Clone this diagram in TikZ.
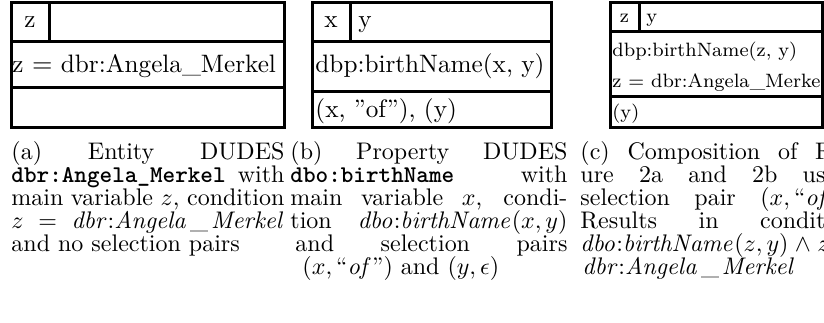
\documentclass[tikz,border=0pt]{standalone}
\usepackage{amsmath}
\usepackage{amssymb}
\newdimen\pxu \pxu=0.4167pt
\tikzset{
  box/.style={line width=3\pxu},
  varcell/.style={inner sep=0pt, anchor=base, font=\fontsize{10.5}{12}\selectfont},
  celltext/.style={inner sep=0pt, anchor=base west, font=\fontsize{10.5}{12}\selectfont},
  smallvar/.style={inner sep=0pt, anchor=base, font=\fontsize{8.05}{10}\selectfont},
  smallcell/.style={inner sep=0pt, anchor=base west, font=\fontsize{8.05}{10}\selectfont},
  subcap/.style={inner sep=0pt, anchor=base west, align=justify, font=\fontsize{10}{9.58}\selectfont}
}
\newcommand{\ttname}[1]{\texttt{\bfseries #1}}
\newcommand{\merkel}{\mathit{dbr}{:}\mathit{Angela\kern.12em\_\kern.12em Merkel}}

\begin{document}
\begin{tikzpicture}[x=\pxu, y=-\pxu]

    \useasboundingbox (0,0) rectangle (824,323);
    \clip (0,0) rectangle (824,323);

    % Entity DUDES
    \draw[box] (11,3) rectangle (284,128);
    \draw[box] (11,42) -- (284,42);
    \draw[box] (11,88) -- (284,88);
    \draw[box] (49,3) -- (49,42);
    \node[varcell] (mainz) at (30,28) {z};
    \node[celltext] (condmerkel) at (12,73) {z $=$ dbr:Angela\_Merkel};

    % Property DUDES
    \draw[box] (312,3) rectangle (551,128);
    \draw[box] (312,42) -- (551,42);
    \draw[box] (312,92) -- (551,92);
    \draw[box] (350,3) -- (350,42);
    \node[varcell] (mainx) at (331,28) {x};
    \node[celltext] (vary) at (358,28) {y};
    \node[celltext] (condbirth) at (315,73) {dbp:birthName(x, y)};
    \node[celltext] (selpairs) at (315,118) {(x, "of"), (y)};

    % Composition of both
    \draw[box] (610,3) rectangle (822.5,128);
    \draw[box] (610,32) -- (822.5,32);
    \draw[box] (610,97) -- (822.5,97);
    \draw[box] (639,3) -- (639,32);
    \node[smallvar] (compz) at (624.5,23) {z};
    \node[smallcell] (compy) at (646,23) {y};
    \node[smallcell] (compbirth) at (612,57) {dbp:birthName(z, y)};
    \node[smallcell] (compmerkel) at (612,88) {z $=$ dbr:Angela\_Merkel};
    \node[smallcell] (compsel) at (612,119) {(y)};

    % Subcaptions
    \node[subcap, text width=273\pxu] (capa) at (11,160) {%
      (a) Entity DUDES\linebreak
      \ttname{dbr:Angela\_Merkel} with\linebreak
      main variable $z$, condition\linebreak
      $z = \merkel$\linebreak
      and no selection pairs};
    \node[subcap, text width=277\pxu] (capb) at (290,160) {%
      (b) Property DUDES\linebreak
      \ttname{dbo:birthName} with\linebreak
      main variable $x$, condi-\linebreak
      tion $\mathit{dbo}{:}\mathit{birthName}(x,y)$\linebreak
      \hspace*{5\pxu}and selection pairs\linebreak
      \hspace*{12\pxu}$(x, \text{``}\mathit{of}\text{''})$ and $(y, \epsilon)$};
    \node[subcap, text width=277\pxu] (capc) at (580,160) {%
      (c) Composition of Fig-\linebreak
      ure 2a and 2b using\linebreak
      selection pair $(x, \text{``}\mathit{of}\text{''})$.\linebreak
      Results in condition\linebreak
      $\mathit{dbo}{:}\mathit{birthName}(z,y) \wedge z =$\linebreak
      \hspace*{2\pxu}$\merkel$};

\end{tikzpicture}
\end{document}
